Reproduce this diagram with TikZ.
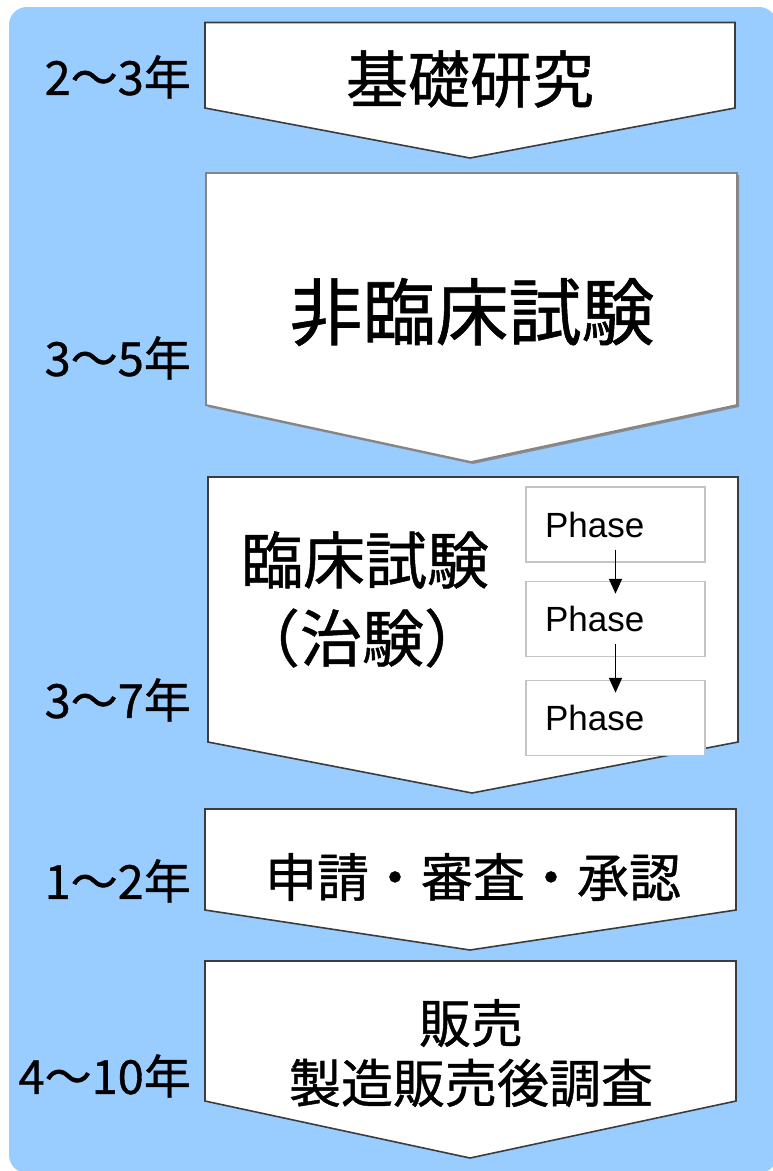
\documentclass[tikz,border=0pt]{standalone}
\usepackage{fontspec}
\newfontfamily\jp[FakeBold=0.8]{Noto Sans CJK JP}
\newfontfamily\arl{Liberation Sans}
\usetikzlibrary{arrows.meta}
\definecolor{bgblue}{HTML}{99CCFF}
\definecolor{edgedark}{HTML}{3C3C3C}
\definecolor{edgegrey}{HTML}{858585}
\definecolor{phaseedge}{HTML}{C4C4C4}
\begin{document}
\begin{tikzpicture}[x=1pt,y=-1pt,
  chev/.style={fill=white,draw=edgedark,line width=1.6pt,line join=miter},
  chevgrey/.style={fill=white,draw=edgegrey,line width=1.8pt,line join=miter},
  chevshadow/.style={fill=black!45},
  ttl/.style={font=\jp\fontsize{62}{62}\selectfont,inner sep=0pt},
  ttlbig/.style={font=\jp\fontsize{73}{73}\selectfont,inner sep=0pt},
  ttlsmall/.style={font=\jp\fontsize{52}{52}\selectfont,inner sep=0pt},
  yr/.style={font=\jp\fontsize{47}{47}\selectfont,anchor=east,inner sep=0pt},
  phasebox/.style={draw=phaseedge,fill=white,line width=1.5pt,minimum width=179pt,minimum height=75pt,inner xsep=19pt,inner ysep=0pt,font=\arl\fontsize{35}{35}\selectfont,text width=141pt,align=left},
  parrow/.style={-{Triangle[length=15pt,width=13pt]},line width=1.8pt,black,shorten <=-13pt,shorten >=-13pt}]
\useasboundingbox (0,0) rectangle (773,1171);
\fill[white] (0,0) rectangle (773,1171);
\fill[bgblue,rounded corners=18pt] (9,7) rectangle (777,1173);

% box 1
\draw[chev] (205,22.5) -- (735,22.5) -- (735,108) -- (470,158) -- (205,108) -- cycle;
\node[ttl] (t1) at (470,79) {基礎研究};
\node[yr] (y1) at (191,77) {2〜3年};

% box 2
\fill[chevshadow] (208,175) -- (739,175) -- (739,407) -- (473,464) -- (208,407) -- cycle;
\draw[chevgrey] (206,173) -- (737,173) -- (737,405) -- (471,462) -- (206,405) -- cycle;
\node[ttlbig] (t2) at (472,312) {非臨床試験};
\node[yr] (y2) at (191,358) {3〜5年};

% box 3
\draw[chev] (208,477) -- (738,477) -- (738,742) -- (472,793) -- (208,742) -- cycle;
\node[ttl] (t3a) at (365,560) {臨床試験};
\node[ttl] (t3b) at (362,638) {（治験）};
\node[yr] (y3) at (191,700) {3〜7年};
\node[phasebox] (p1) at (615.5,524.5) {Phase};
\node[phasebox] (p2) at (615.5,619) {Phase};
\node[phasebox] (p3) at (615.5,718) {Phase};
\draw[parrow] (p1.south) -- (p2.north);
\draw[parrow] (p2.south) -- (p3.north);

% box 4
\draw[chev] (205,809) -- (736,809) -- (736,910) -- (470,950) -- (205,910) -- cycle;
\node[ttlsmall] (t4) at (473,877) {申請・審査・承認};
\node[yr] (y4) at (191,881) {1〜2年};

% box 5
\draw[chev] (205,961) -- (736,961) -- (736,1101) -- (470,1158) -- (205,1101) -- cycle;
\node[ttlsmall] (t5a) at (471,1023) {販売};
\node[ttlsmall] (t5b) at (471,1083) {製造販売後調査};
\node[yr] (y5) at (191,1076) {4〜10年};
\end{tikzpicture}
\end{document}
